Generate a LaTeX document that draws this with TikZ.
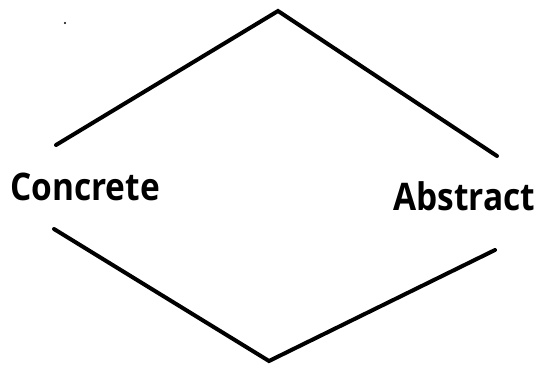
\documentclass[tikz,border=0pt]{standalone}
\usepackage{fontspec}
\usepackage{graphicx}
\setmainfont{Open Sans}
\begin{document}
\begin{tikzpicture}[x=1pt,y=-1pt,
  edge/.style={line width=4pt,line cap=round,line join=miter},
  lbl/.style={font=\fontsize{38}{40}\selectfont\bfseries,inner sep=0pt,anchor=base west}]
\useasboundingbox (0,0) rectangle (537,364);
\coordinate (top) at (278,11);
\coordinate (bot) at (269,361);
\coordinate (ul) at (56,145);
\coordinate (ur) at (497,156);
\coordinate (ll) at (54,229);
\coordinate (lr) at (495,250);
\draw[edge] (ul) -- (top) -- (ur);
\draw[edge] (ll) -- (bot) -- (lr);
\node[lbl] (concrete) at (10,200) {\scalebox{0.88}[1]{Concrete}};
\node[lbl] (abstract) at (393,210) {\scalebox{0.88}[1]{Abstract}};
\fill (65,23) circle (1.2pt);
\end{tikzpicture}
\end{document}
